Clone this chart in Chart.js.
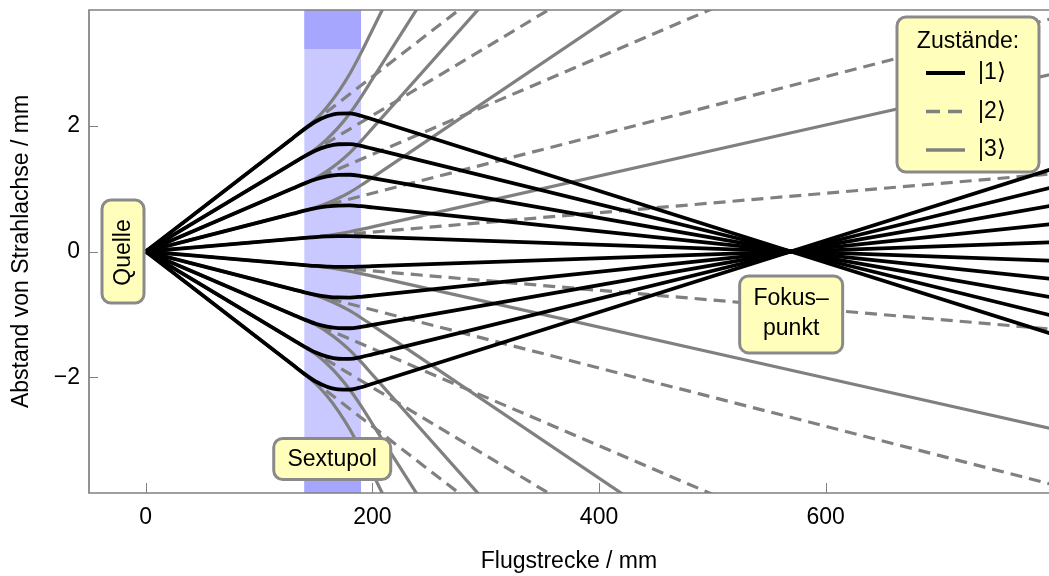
<!DOCTYPE html>
<html>
<head>
<meta charset="utf-8">
<script src="https://cdn.jsdelivr.net/npm/chart.js@4/dist/chart.umd.min.js"></script>
<style>
html, body { margin: 0; padding: 0; background: #fff; }
#wrap { width: 1049px; height: 576px; }
</style>
</head>
<body>
<div id="wrap"><canvas id="grafico" width="1049" height="576"></canvas></div>
<script>
// Stützstellen entlang der Flugstrecke (mm)
const flugstrecke = [0, 130, 140, 150, 160, 170, 180, 190, 200, 800]
const flugstreckeGerade = [0, 800]

// Zustand |1> : wird im Sextupol fokussiert (schwarz)
const zustand1 = [
    [0, 1.806, 1.946, 2.067, 2.150, 2.193, 2.196, 2.159, 2.102, -1.313],
    [0, 1.405, 1.513, 1.607, 1.671, 1.705, 1.708, 1.679, 1.635, -1.021],
    [0, 1.004, 1.081, 1.148, 1.194, 1.218, 1.220, 1.199, 1.168, -0.730],
    [0, 0.602, 0.649, 0.689, 0.716, 0.731, 0.732, 0.720, 0.701, -0.438],
    [0, 0.201, 0.216, 0.230, 0.239, 0.244, 0.244, 0.240, 0.234, -0.146],
    [0, -0.201, -0.216, -0.230, -0.239, -0.244, -0.244, -0.240, -0.234, 0.146],
    [0, -0.602, -0.649, -0.689, -0.716, -0.731, -0.732, -0.720, -0.701, 0.438],
    [0, -1.004, -1.081, -1.148, -1.194, -1.218, -1.220, -1.199, -1.168, 0.730],
    [0, -1.405, -1.513, -1.607, -1.671, -1.705, -1.708, -1.679, -1.635, 1.021],
    [0, -1.806, -1.946, -2.067, -2.150, -2.193, -2.196, -2.159, -2.102, 1.313]
]

// Zustand |2> : fliegt geradeaus (gestrichelt), Werte bei 0 und 800 mm
const zustand2 = [
    [0, 11.117], [0, 8.646], [0, 6.176], [0, 3.706], [0, 1.235],
    [0, -1.235], [0, -3.706], [0, -6.176], [0, -8.646], [0, -11.117]
]

// Zustand |3> : wird defokussiert (grau)
const zustand3 = [
    [0, 1.806, 1.946, 2.102, 2.299, 2.537, 2.822, 3.158, 3.523, 25.40],
    [0, 1.405, 1.513, 1.635, 1.788, 1.973, 2.195, 2.456, 2.740, 19.75],
    [0, 1.004, 1.081, 1.168, 1.277, 1.410, 1.568, 1.755, 1.957, 14.11],
    [0, 0.602, 0.649, 0.701, 0.766, 0.846, 0.941, 1.053, 1.174, 8.466],
    [0, 0.201, 0.216, 0.234, 0.255, 0.282, 0.314, 0.351, 0.391, 2.822],
    [0, -0.201, -0.216, -0.234, -0.255, -0.282, -0.314, -0.351, -0.391, -2.822],
    [0, -0.602, -0.649, -0.701, -0.766, -0.846, -0.941, -1.053, -1.174, -8.466],
    [0, -1.004, -1.081, -1.168, -1.277, -1.410, -1.568, -1.755, -1.957, -14.11],
    [0, -1.405, -1.513, -1.635, -1.788, -1.973, -2.195, -2.456, -2.740, -19.75],
    [0, -1.806, -1.946, -2.102, -2.299, -2.537, -2.822, -3.158, -3.523, -25.40]
]

// Sextupol von/bis (mm) und Rand der Elektroden (mm)
const sextupolBereich = [140, 190]
const sextupolRand = 3.22

const xTicks = [0, 200, 400, 600]
const yTicks = [-2, 0, 2]

const schrift = '"Liberation Sans", Arial, sans-serif'
Chart.defaults.font.family = schrift
Chart.defaults.font.size = 23
Chart.defaults.color = '#000'

const GRAU = '#808080'

function zuPunkten(xs, ys) {
    return xs.map(function (x, i) { return { x: x, y: ys[i] } })
}

const datasets = []
zustand1.forEach(function (ys) {
    datasets.push({ data: zuPunkten(flugstrecke, ys), borderColor: '#000', borderWidth: 3.8, clip: 0 })
})
zustand2.forEach(function (ys) {
    datasets.push({ data: zuPunkten(flugstreckeGerade, ys), borderColor: GRAU, borderWidth: 3.2, borderDash: [12, 7], clip: 0 })
})
zustand3.forEach(function (ys) {
    datasets.push({ data: zuPunkten(flugstrecke, ys), borderColor: GRAU, borderWidth: 3.2, clip: 0 })
})

function rundesRechteck(ctx, x, y, w, h, r) {
    ctx.beginPath()
    ctx.moveTo(x + r, y)
    ctx.arcTo(x + w, y, x + w, y + h, r)
    ctx.arcTo(x + w, y + h, x, y + h, r)
    ctx.arcTo(x, y + h, x, y, r)
    ctx.arcTo(x, y, x + w, y, r)
    ctx.closePath()
}

function kasten(ctx, cx, cy, w, h) {
    ctx.save()
    rundesRechteck(ctx, cx - w / 2, cy - h / 2, w, h, 9)
    ctx.fillStyle = '#ffffbb'
    ctx.fill()
    ctx.lineWidth = 3
    ctx.strokeStyle = '#8a8a8a'
    ctx.stroke()
    ctx.restore()
}

const dekoration = {
    id: 'dekoration',
    beforeDatasetsDraw(chart) {
        const { ctx, chartArea: a, scales: { x, y } } = chart
        const x1 = x.getPixelForValue(sextupolBereich[0])
        const x2 = x.getPixelForValue(sextupolBereich[1])
        const yo = y.getPixelForValue(sextupolRand)
        const yu = y.getPixelForValue(-sextupolRand)
        ctx.save()
        ctx.fillStyle = '#c9c9ff'
        ctx.fillRect(x1, a.top, x2 - x1, a.bottom - a.top)
        ctx.fillStyle = '#a6a6ff'
        ctx.fillRect(x1, a.top, x2 - x1, yo - a.top)
        ctx.fillRect(x1, yu, x2 - x1, a.bottom - yu)

        // Striche nach innen
        ctx.strokeStyle = GRAU
        ctx.lineWidth = 1
        xTicks.forEach(function (v) {
            const px = Math.round(x.getPixelForValue(v)) + 0.5
            ctx.beginPath(); ctx.moveTo(px, a.bottom); ctx.lineTo(px, a.bottom - 10); ctx.stroke()
        })
        yTicks.forEach(function (v) {
            const py = Math.round(y.getPixelForValue(v)) + 0.5
            ctx.beginPath(); ctx.moveTo(a.left, py); ctx.lineTo(a.left + 9, py); ctx.stroke()
        })
        ctx.restore()
    },
    afterDatasetsDraw(chart) {
        const { ctx, chartArea: a, scales: { x, y } } = chart
        ctx.save()
        // Rahmen oben, links, unten
        ctx.strokeStyle = GRAU
        ctx.lineWidth = 1.7
        ctx.beginPath()
        ctx.moveTo(a.right, a.top)
        ctx.lineTo(a.left, a.top)
        ctx.lineTo(a.left, a.bottom)
        ctx.lineTo(a.right, a.bottom)
        ctx.stroke()

        ctx.font = '23px ' + schrift
        ctx.fillStyle = '#000'
        ctx.textAlign = 'center'
        ctx.textBaseline = 'middle'

        // Quelle
        let cx = x.getPixelForValue(-20), cy = y.getPixelForValue(0)
        kasten(ctx, cx, cy, 42, 103)
        ctx.save()
        ctx.translate(cx + 1, cy + 1)
        ctx.rotate(-Math.PI / 2)
        ctx.fillStyle = '#000'
        ctx.fillText('Quelle', 0, 0)
        ctx.restore()

        // Sextupol
        cx = x.getPixelForValue(164.6); cy = y.getPixelForValue(-3.3)
        kasten(ctx, cx, cy, 117, 41)
        ctx.fillText('Sextupol', cx, cy + 1)

        // Fokuspunkt
        cx = x.getPixelForValue(569.5); cy = y.getPixelForValue(-1.0)
        kasten(ctx, cx, cy, 103, 77)
        ctx.fillText('Fokus\u2013', cx, cy - 16)
        ctx.fillText('punkt', cx, cy + 14)

        // Legende
        const lx = a.right - 152, ly = a.top + 7
        rundesRechteck(ctx, lx, ly, 142, 155, 9)
        ctx.fillStyle = '#ffffbb'
        ctx.fill()
        ctx.lineWidth = 3
        ctx.strokeStyle = '#8a8a8a'
        ctx.stroke()
        ctx.fillStyle = '#000'
        ctx.fillText('Zust\u00e4nde:', lx + 71, ly + 25)
        const zeilen = [
            { text: '|1\u27e9', farbe: '#000', breite: 4, strich: [] },
            { text: '|2\u27e9', farbe: GRAU, breite: 3.5, strich: [14, 8] },
            { text: '|3\u27e9', farbe: GRAU, breite: 3.5, strich: [] }
        ]
        zeilen.forEach(function (z, i) {
            const zy = ly + 56 + i * 38.5
            ctx.beginPath()
            ctx.setLineDash(z.strich)
            ctx.strokeStyle = z.farbe
            ctx.lineWidth = z.breite
            ctx.moveTo(lx + 29, zy)
            ctx.lineTo(lx + 68, zy)
            ctx.stroke()
            ctx.setLineDash([])
            ctx.textAlign = 'left'
            ctx.fillStyle = '#000'
            ctx.fillText(z.text, lx + 81, zy)
        })
        ctx.restore()
    }
}

const canvas = document.getElementById('grafico')
const chart = new Chart(canvas.getContext('2d'), {
    type: 'line',
    data: { datasets: datasets },
    options: {
        responsive: false,
        devicePixelRatio: 1,
        animation: false,
        events: [],
        layout: { padding: { top: 10, right: 0, left: 0, bottom: 0 } },
        plugins: { legend: { display: false }, tooltip: { enabled: false } },
        elements: {
            point: { radius: 0 },
            line: { cubicInterpolationMode: 'monotone', fill: false }
        },
        scales: {
            x: {
                type: 'linear',
                min: -50,
                max: 797,
                grid: { display: false },
                border: { display: false },
                afterBuildTicks: function (s) { s.ticks = xTicks.map(function (v) { return { value: v } }) },
                afterFit: function (s) { s.height = 83; s.paddingLeft = 0; s.paddingRight = 0 },
                ticks: { padding: 3 },
                title: { display: true, text: 'Flugstrecke / mm', padding: { top: 0, bottom: 1 } }
            },
            y: {
                type: 'linear',
                min: -3.84,
                max: 3.84,
                grid: { display: false },
                border: { display: false },
                afterBuildTicks: function (s) { s.ticks = yTicks.map(function (v) { return { value: v } }) },
                afterFit: function (s) { s.width = 89; s.paddingTop = 0; s.paddingBottom = 0 },
                ticks: {
                    padding: 1,
                    callback: function (v) { return String(v).replace('-', '\u2212') }
                },
                title: { display: true, text: 'Abstand von Strahlachse / mm', padding: { top: 8, bottom: 0 } }
            }
        }
    },
    plugins: [dekoration]
})
</script>
</body>
</html>
